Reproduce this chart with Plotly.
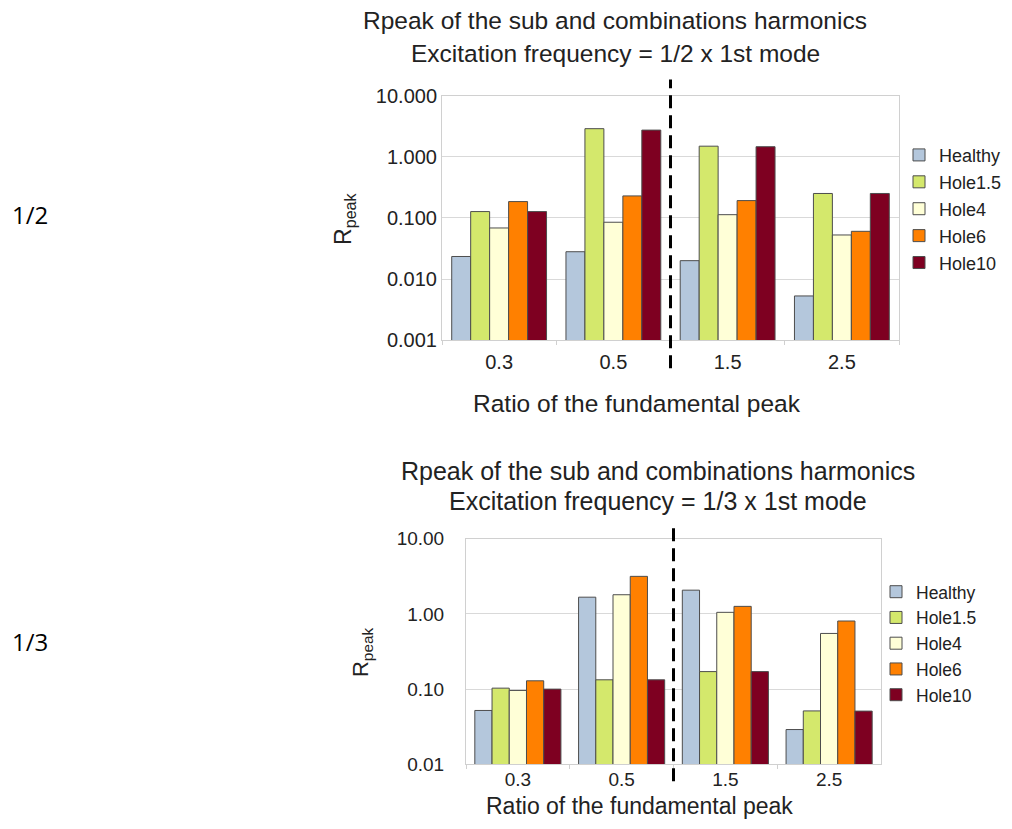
import plotly.graph_objects as go

categories = ["0.3", "0.5", "1.5", "2.5"]
series_names = ["Healthy", "Hole1.5", "Hole4", "Hole6", "Hole10"]

# Excitation frequency = 1/2 x 1st mode
half_healthy = [0.0234, 0.028, 0.020, 0.0053]
half_hole15 = [0.127, 2.88, 1.49, 0.251]
half_hole4 = [0.0685, 0.085, 0.113, 0.0526]
half_hole6 = [0.185, 0.229, 0.192, 0.0604]
half_hole10 = [0.127, 2.73, 1.46, 0.251]

# Excitation frequency = 1/3 x 1st mode
third_healthy = [0.052, 1.67, 2.07, 0.029]
third_hole15 = [0.103, 0.133, 0.171, 0.0513]
third_hole4 = [0.096, 1.80, 1.05, 0.55]
third_hole6 = [0.129, 3.16, 1.26, 0.805]
third_hole10 = [0.100, 0.133, 0.171, 0.051]

colors = ["#b4c7dc", "#d4e86c", "#ffffd7", "#ff8000", "#7e0021"]

half_values = [half_healthy, half_hole15, half_hole4, half_hole6, half_hole10]
third_values = [third_healthy, third_hole15, third_hole4, third_hole6, third_hole10]

FONT = "Liberation Sans, Arial, sans-serif"
TXT = "#222222"

fig = go.Figure()

for i, (name, vals, col) in enumerate(zip(series_names, half_values, colors)):
    fig.add_trace(go.Bar(
        x=categories, y=vals, name=name, marker_color=col,
        marker_line_color="#4d4d4d", marker_line_width=1,
        xaxis="x", yaxis="y", legend="legend", legendgroup=f"top{i}",
    ))

for i, (name, vals, col) in enumerate(zip(series_names, third_values, colors)):
    fig.add_trace(go.Bar(
        x=categories, y=vals, name=name, marker_color=col,
        marker_line_color="#4d4d4d", marker_line_width=1,
        xaxis="x2", yaxis="y2", legend="legend2",
    ))

W, H = 1012, 829


def px_x(p):
    return p / W


def px_y(p):
    # target screen row -> paper fraction (compensates the page's vertical fit)
    fy = (p - 11.6) / 0.971
    return 1 - fy / H


fig.update_layout(
    width=W, height=H,
    margin=dict(l=0, r=0, t=0, b=0),
    paper_bgcolor="white", plot_bgcolor="white",
    barmode="group", bargap=0.17, bargroupgap=0,
    font=dict(family=FONT, color=TXT),
    xaxis=dict(
        domain=[px_x(442), px_x(899)], anchor="y",
        type="category", tickson="boundaries", ticks="outside", ticklen=4,
        tickcolor="#d0d0d0", showgrid=False, showline=True,
        linecolor="#d0d0d0", mirror=True, ticklabelstandoff=4,
        tickfont=dict(family=FONT, size=20, color=TXT),
    ),
    yaxis=dict(
        domain=[px_y(340), px_y(96)], anchor="x",
        type="log", range=[-3, 1], tickvals=[0.001, 0.01, 0.1, 1, 10],
        tickformat=".3f", showgrid=True, gridcolor="#d9d9d9",
        showline=True, linecolor="#d0d0d0", mirror=True,
        tickfont=dict(family=FONT, size=20, color=TXT), ticks="",
    ),
    xaxis2=dict(
        domain=[px_x(466), px_x(881)], anchor="y2",
        type="category", tickson="boundaries", ticks="outside", ticklen=4,
        tickcolor="#d0d0d0", showgrid=False, showline=True,
        linecolor="#d0d0d0", mirror=True, ticklabelstandoff=-2,
        tickfont=dict(family=FONT, size=19, color=TXT),
    ),
    yaxis2=dict(
        domain=[px_y(763), px_y(538)], anchor="x2",
        type="log", range=[-2, 1], tickvals=[0.01, 0.1, 1, 10],
        tickformat=".2f", showgrid=True, gridcolor="#d9d9d9",
        showline=True, linecolor="#d0d0d0", mirror=True,
        tickfont=dict(family=FONT, size=19, color=TXT), ticks="",
        ticklabelstandoff=17,
    ),
    legend=dict(
        x=px_x(899), y=px_y(137), xanchor="left", yanchor="top",
        font=dict(family=FONT, size=18, color=TXT),
        bgcolor="rgba(0,0,0,0)", itemwidth=30, tracegroupgap=0.5,
    ),
    legend2=dict(
        x=px_x(876), y=px_y(573), xanchor="left", yanchor="top",
        font=dict(family=FONT, size=17.5, color=TXT),
        bgcolor="rgba(0,0,0,0)", itemwidth=30, tracegroupgap=0,
    ),
    showlegend=True,
)

# Dashed separators between the sub-harmonics and combination harmonics
fig.add_shape(type="line", xref="x", yref="paper", x0=1.5, x1=1.5,
              y0=px_y(368), y1=px_y(80),
              line=dict(color="black", width=3, dash="13px,7px"))
fig.add_shape(type="line", xref="x2", yref="paper", x0=1.5, x1=1.5,
              y0=px_y(780), y1=px_y(525),
              line=dict(color="black", width=3, dash="13px,7px"))


def text(t, x, y, size, angle=0, family=FONT, color=TXT, xanchor="center"):
    fig.add_annotation(text=t, xref="paper", yref="paper", x=px_x(x), y=px_y(y),
                       xanchor=xanchor, yanchor="middle", showarrow=False,
                       textangle=angle, font=dict(family=family, size=size, color=color))


# Chart titles
text("Rpeak of the sub and combinations harmonics", 615, 21, 24.5)
text("Excitation frequency = 1/2 x 1st mode", 615, 54, 24.5)
text("Rpeak of the sub and combinations harmonics", 658, 470, 25)
text("Excitation frequency = 1/3 x 1st mode", 658, 500, 25)

# Axis titles
text("Ratio of the fundamental peak", 637, 403, 24.5)
fig.add_annotation(text="Ratio of the fundamental peak", xref="paper", yref="paper",
                   x=px_x(639), y=-0.003, xanchor="center", yanchor="bottom",
                   showarrow=False, borderpad=0,
                   font=dict(family=FONT, size=23, color=TXT))
text("R<sub>peak</sub>", 345, 219, 23, angle=-90)
text("R<sub>peak</sub>", 362, 651, 22, angle=-90)

# Row labels
text("1/2", 10, 215, 24, family="Open Sans, sans-serif", color="black", xanchor="left")
text("1/3", 10, 641, 24, family="Open Sans, sans-serif", color="black", xanchor="left")

fig.write_html("out.html")
